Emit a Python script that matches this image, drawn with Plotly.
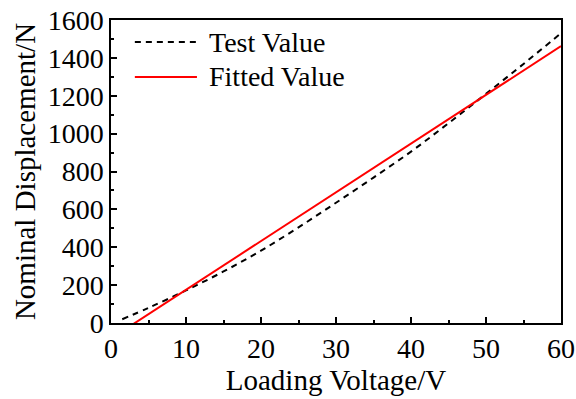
import plotly.graph_objects as go

# Data
test_x = [1.5, 5, 10, 15, 20, 25, 30, 35, 40, 45, 50, 55, 60]
test_y = [20, 80, 172, 272, 382, 505, 635, 768, 905, 1055, 1210, 1368, 1530]

fit_x = [0, 60]
fit_y = [-82, 1462]

x_ticks = [0, 10, 20, 30, 40, 50, 60]
y_ticks = [0, 200, 400, 600, 800, 1000, 1200, 1400, 1600]
series_names = ["Test Value", "Fitted Value"]

FONT = "Liberation Serif, Times New Roman, serif"
TEST_DASH = "6px,5px"

fig = go.Figure()
fig.add_trace(go.Scatter(x=test_x, y=test_y, mode="lines", name=series_names[0],
                         line=dict(color="black", width=2, dash=TEST_DASH, shape="spline"),
                         showlegend=False))
fig.add_trace(go.Scatter(x=fit_x, y=fit_y, mode="lines", name=series_names[1],
                         line=dict(color="#ff0000", width=2), showlegend=False))

axis_common = dict(showline=True, linecolor="black", linewidth=1.5, mirror=True,
                   ticks="inside", ticklen=6, tickwidth=1.5, tickcolor="black",
                   showgrid=False, zeroline=False, automargin=False,
                   tickfont=dict(family=FONT, size=28, color="black"))

fig.update_xaxes(range=[0, 60], tickvals=x_ticks, **axis_common,
                 minor=dict(tickvals=[5, 15, 25, 35, 45, 55], ticks="inside", ticklen=3,
                            tickwidth=1.5, tickcolor="black"),
                 title=dict(text="Loading Voltage/V", font=dict(family=FONT, size=29, color="black"), standoff=6))
fig.update_yaxes(range=[0, 1600], tickvals=y_ticks, **axis_common,
                 minor=dict(tickvals=[100, 300, 500, 700, 900, 1100, 1300, 1500], ticks="inside",
                            ticklen=3, tickwidth=1.5, tickcolor="black"),
                 title=dict(text="Nominal Displacement/N", font=dict(family=FONT, size=29, color="black"), standoff=4))

# Legend drawn inside the plot, top-left (long line samples as in the reference)
legend_rows = [(0.927, dict(color="black", width=2, dash=TEST_DASH)),
               (0.812, dict(color="#ff0000", width=2))]
for (yy, ln), name in zip(legend_rows, series_names):
    fig.add_shape(type="line", xref="x domain", yref="y domain",
                  x0=0.053, x1=0.191, y0=yy, y1=yy, line=ln)
    fig.add_annotation(xref="x domain", yref="y domain", x=0.213, y=yy,
                       xanchor="left", yanchor="middle", text=name, showarrow=False,
                       font=dict(family=FONT, size=28, color="black"))

fig.update_layout(
    width=576, height=399,
    margin=dict(l=111, r=15, t=20, b=76),
    plot_bgcolor="white", paper_bgcolor="white",
    font=dict(family=FONT, size=28, color="black"),
    showlegend=False,
)

fig.write_html("out.html")
